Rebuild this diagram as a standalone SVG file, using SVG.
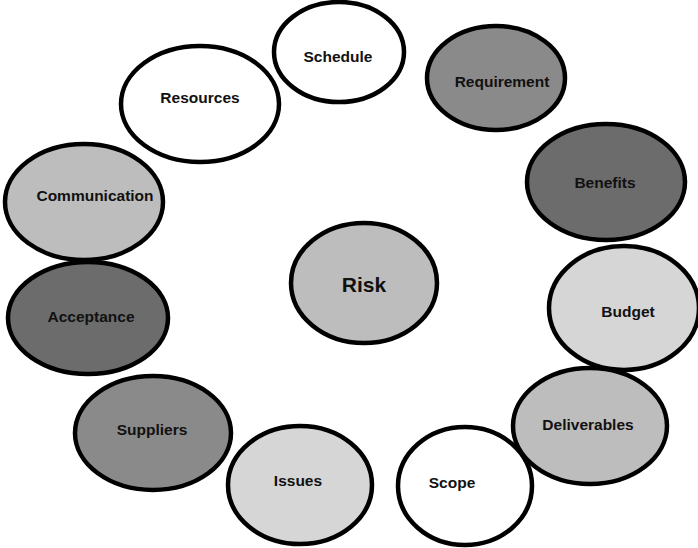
<svg xmlns="http://www.w3.org/2000/svg" width="698" height="548" viewBox="0 0 698 548">
  <style>
    .node ellipse { stroke: #000; stroke-width: 4.5; }
    .node text { font-family: "Liberation Sans", Arial, sans-serif; font-weight: bold; font-size: 15.5px; fill: #111; text-anchor: middle; dominant-baseline: central; }
    .white { fill: #ffffff; }
    .light { fill: #d6d6d6; }
    .mid { fill: #bdbdbd; }
    .dark { fill: #8a8a8a; }
    .darker { fill: #6c6c6c; }
  </style>
  <rect width="698" height="548" fill="#ffffff"/>
  <g id="connectors"></g>

  <g id="node-schedule" class="node">
    <ellipse class="white" cx="339" cy="52" rx="65" ry="50"/>
    <text x="338" y="56">Schedule</text>
  </g>
  <g id="node-requirement" class="node">
    <ellipse class="dark" cx="496" cy="78" rx="69" ry="52"/>
    <text x="502" y="81">Requirement</text>
  </g>
  <g id="node-resources" class="node">
    <ellipse class="white" cx="200" cy="104" rx="79" ry="58"/>
    <text x="200" y="97">Resources</text>
  </g>
  <g id="node-benefits" class="node">
    <ellipse class="darker" cx="606" cy="182" rx="79" ry="58"/>
    <text x="605" y="182">Benefits</text>
  </g>
  <g id="node-communication" class="node">
    <ellipse class="mid" cx="84" cy="202" rx="79" ry="58"/>
    <text x="95" y="195">Communication</text>
  </g>
  <g id="node-risk" class="node">
    <ellipse class="mid" cx="364" cy="283" rx="73" ry="60"/>
    <text x="364" y="284" style="font-size:21px">Risk</text>
  </g>
  <g id="node-budget" class="node">
    <ellipse class="light" cx="624" cy="308" rx="75" ry="62"/>
    <text x="628" y="311">Budget</text>
  </g>
  <g id="node-acceptance" class="node">
    <ellipse class="darker" cx="88" cy="318" rx="80" ry="56"/>
    <text x="91" y="316">Acceptance</text>
  </g>
  <g id="node-deliverables" class="node">
    <ellipse class="mid" cx="590" cy="426" rx="77" ry="58"/>
    <text x="588" y="424">Deliverables</text>
  </g>
  <g id="node-suppliers" class="node">
    <ellipse class="dark" cx="153" cy="433" rx="78" ry="57"/>
    <text x="152" y="429">Suppliers</text>
  </g>
  <g id="node-scope" class="node">
    <ellipse class="white" cx="465" cy="486" rx="67" ry="59"/>
    <text x="452" y="482">Scope</text>
  </g>
  <g id="node-issues" class="node">
    <ellipse class="light" cx="300" cy="485" rx="72" ry="59"/>
    <text x="298" y="480">Issues</text>
  </g>
</svg>
